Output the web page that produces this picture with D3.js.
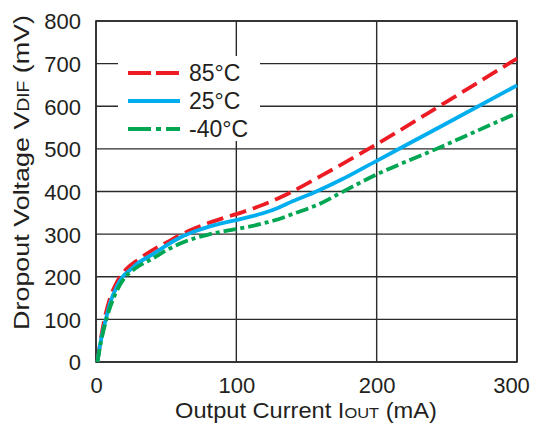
<!DOCTYPE html>
<html>
<head>
<meta charset="utf-8">
<script src="https://cdn.jsdelivr.net/npm/d3@7"></script>
<style>
  html, body { margin: 0; padding: 0; background: #fff; }
  svg { display: block; font-family: Arial, "Liberation Sans", Helvetica, sans-serif; }
</style>
</head>
<body>
<svg id="chart" width="534" height="435"></svg>
<script>
// ---- data ----
const xTicks = [0, 100, 200, 300];
const yTicks = [0, 100, 200, 300, 400, 500, 600, 700, 800];

const current85 = [1, 3, 6, 10, 15, 20, 30, 40, 50, 60, 70, 80, 90, 100, 110, 120, 130, 140, 160, 180, 200, 250, 300];
const voltage85 = [0, 45, 100, 150, 188, 212, 240, 262, 280, 298, 313, 326, 337, 347, 358, 370, 384, 400, 436, 473, 511, 611, 712];

const current25 = [1, 3, 7, 10, 15, 19, 25, 30, 40, 50, 60, 70, 80, 90, 100, 110, 120, 130, 140, 157, 175, 200, 250, 300];
const voltage25 = [0, 42, 100, 138, 178, 200, 218, 232, 252, 273, 292, 306, 317, 326, 333, 341, 350, 362, 377, 400, 428, 472, 560, 649];

const currentM40 = [1, 3, 7.4, 10, 15, 21, 25, 30, 40, 50, 60, 70, 80, 90, 100, 110, 120, 130, 140, 160, 175, 200, 237, 270, 300];
const voltageM40 = [0, 38, 100, 128, 168, 200, 212, 224, 242, 262, 278, 290, 299, 306, 312, 318, 326, 335, 347, 372, 398, 440, 492, 540, 584];

const seriesNames = ["85°C", "25°C", "-40°C"];
const seriesColors = ["#ed1c24", "#00aeef", "#00a651"];

// ---- layout ----
const svg = d3.select("#chart");
const mLeft = 96, mRight = 517, mTop = 21, mBottom = 362;
const x = d3.scaleLinear().domain([0, 300]).range([mLeft, mRight]);
const y = d3.scaleLinear().domain([0, 800]).range([mBottom, mTop]);
const gridColor = "#2b2b2b";
const textColor = "#231f20";

// grid
const grid = svg.append("g");
grid.selectAll("line.h").data(yTicks).join("line")
  .attr("x1", mLeft).attr("x2", mRight)
  .attr("y1", d => y(d)).attr("y2", d => y(d))
  .attr("stroke", gridColor).attr("stroke-width", 1.4);
grid.selectAll("line.v").data(xTicks).join("line")
  .attr("y1", mTop).attr("y2", mBottom)
  .attr("x1", d => x(d)).attr("x2", d => x(d))
  .attr("stroke", gridColor).attr("stroke-width", 1.4);
grid.append("rect").attr("x", mLeft).attr("y", mTop)
  .attr("width", mRight - mLeft).attr("height", mBottom - mTop)
  .attr("fill", "none").attr("stroke", gridColor).attr("stroke-width", 1.6);

// axes (labels only)
const xAxis = svg.append("g").attr("transform", `translate(0,${mBottom})`)
  .call(d3.axisBottom(x).tickValues(xTicks).tickSize(0).tickPadding(0));
const yAxis = svg.append("g").attr("transform", `translate(${mLeft},0)`)
  .call(d3.axisLeft(y).tickValues(yTicks).tickSize(0).tickPadding(15));
[xAxis, yAxis].forEach(a => {
  a.select(".domain").remove();
  a.selectAll("text").attr("font-size", 22).attr("fill", textColor)
    .attr("font-family", "Arial, 'Liberation Sans', sans-serif");
});
xAxis.selectAll("text").attr("y", 31).attr("dy", null)
  .attr("dx", d => d === 300 ? -6 : 0);
yAxis.selectAll("text").attr("dy", "0.36em");

// legend background
svg.append("rect").attr("x", 118).attr("y", 56).attr("width", 142).attr("height", 85)
  .attr("fill", "#fff");

// lines
const curves = [
  { xs: current85, ys: voltage85, dash: "17,7", legDash: "23,5" },
  { xs: current25, ys: voltage25, dash: null, legDash: null },
  { xs: currentM40, ys: voltageM40, dash: "13,4,4,4", legDash: "23,5,5,5" }
];
const line = d3.line().x(d => x(d[0])).y(d => y(d[1])).curve(d3.curveMonotoneX);
curves.forEach((c, i) => {
  const pts = c.xs.map((v, j) => [v, c.ys[j]]);
  svg.append("path").datum(pts).attr("d", line)
    .attr("fill", "none").attr("stroke", seriesColors[i])
    .attr("stroke-width", 3.8)
    .attr("stroke-dasharray", c.dash);
});

// legend
const legY = [73, 101, 129];
seriesNames.forEach((n, i) => {
  svg.append("line").attr("x1", 128).attr("x2", 180)
    .attr("y1", legY[i]).attr("y2", legY[i])
    .attr("stroke", seriesColors[i]).attr("stroke-width", 3.8)
    .attr("stroke-dasharray", curves[i].legDash);
  svg.append("text").attr("x", 189).attr("y", legY[i]).attr("dy", "0.36em")
    .attr("font-size", 23).attr("fill", textColor).text(n);
});

// axis titles (stretched to the reference width)
function title(parts, transform, targetW, size, subSize) {
  const g = svg.append("g");
  const t = g.append("text").attr("text-anchor", "middle")
    .attr("font-size", size).attr("fill", textColor);
  parts.forEach((p, i) => {
    const ts = t.append("tspan").text(p);
    if (i === 1) ts.attr("font-size", subSize);
  });
  const w = t.node().getComputedTextLength();
  g.attr("transform", `${transform} scale(${targetW / w},1)`);
}
title(["Output Current I", "OUT", " (mA)"], "translate(306,417.5)", 262, 21.5, 15);
title(["Dropout Voltage V", "DIF", " (mV)"], "translate(28.5,172.5) rotate(-90)", 315, 22.5, 16);
</script>
</body>
</html>
